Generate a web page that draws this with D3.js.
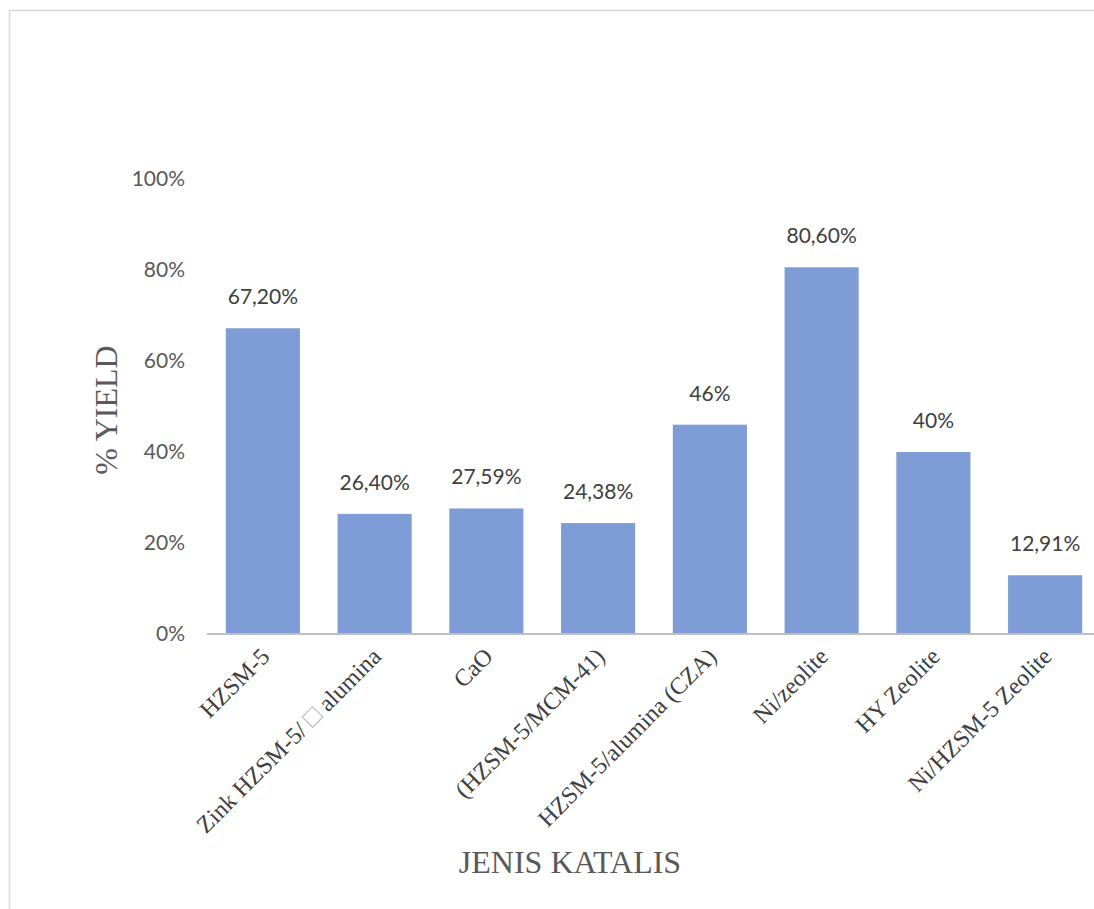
<!DOCTYPE html>
<html>
<head>
<meta charset="utf-8">
<script src="https://cdn.jsdelivr.net/npm/d3@7"></script>
<style>
  html, body { margin: 0; padding: 0; background: #fff; overflow: hidden; }
  svg { display: block; }
</style>
</head>
<body>
<div id="chart"></div>
<script>
const categories = ["HZSM-5", "Zink HZSM-5/ \u25A1 alumina", "CaO", "(HZSM-5/MCM-41)", "HZSM-5/alumina (CZA)", "Ni/zeolite", "HY Zeolite", "Ni/HZSM-5 Zeolite"];
const yields = [67.20, 26.40, 27.59, 24.38, 46, 80.60, 40, 12.91];
const valueLabels = ["67,20%", "26,40%", "27,59%", "24,38%", "46%", "80,60%", "40%", "12,91%"];
const yTicks = [0, 20, 40, 60, 80, 100];

const W = 1094, H = 909;
const margin = { left: 207, right: 1101, top: 179, bottom: 634 };

const svg = d3.select("#chart").append("svg")
  .attr("width", W).attr("height", H);

svg.append("rect").attr("width", W).attr("height", H).attr("fill", "#fff");

// outer frame (top and left visible)
svg.append("rect")
  .attr("x", 9.5).attr("y", 10.5)
  .attr("width", 1200).attr("height", 1000)
  .attr("fill", "none").attr("stroke", "#d9d9d9").attr("stroke-width", 1.5);

const x = d3.scaleBand()
  .domain(categories)
  .range([margin.left, margin.right])
  .paddingInner(0.337)
  .paddingOuter(0.1685);

const y = d3.scaleLinear()
  .domain([0, 100])
  .range([margin.bottom, margin.top]);

// y-axis tick labels
const yAxis = d3.axisLeft(y).tickValues(yTicks).tickSize(0).tickPadding(0)
  .tickFormat(d => d + "%");
const gy = svg.append("g").attr("transform", `translate(185,0)`).call(yAxis);
gy.select(".domain").remove();
gy.selectAll("text")
  .attr("font-family", "Lato, 'Open Sans', sans-serif")
  .attr("font-size", 21)
  .attr("fill", "#595959");

// bars
svg.append("g").selectAll("rect")
  .data(yields)
  .join("rect")
  .attr("x", (d, i) => x(categories[i]))
  .attr("y", d => y(d))
  .attr("width", x.bandwidth())
  .attr("height", d => y(0) - y(d))
  .attr("fill", "#7e9dd6");

// baseline
const xAxis = d3.axisBottom(x).tickSize(0).tickFormat("");
const gx = svg.append("g").attr("transform", `translate(0,${y(0)})`).call(xAxis);
gx.select(".domain").attr("stroke", "#bfbfbf").attr("stroke-width", 2)
  .attr("d", `M${margin.left},0H${W + 10}`);

// x tick labels rotated
const xl = svg.append("g").selectAll("text")
  .data(categories)
  .join("text")
  .attr("transform", d => `translate(${x(d) + x.bandwidth() / 2 + 8},${y(0) + 24}) rotate(-45)`)
  .attr("text-anchor", "end")
  .attr("font-family", "'Liberation Serif', 'Times New Roman', serif")
  .attr("font-size", 24)
  .attr("fill", "#404040")
  .style("white-space", "pre");
xl.each(function (d) {
  const t = d3.select(this);
  const parts = d.split("\u25A1");
  parts.forEach((p, k) => {
    if (k > 0) t.append("tspan").attr("fill", "#b5b5b5").attr("font-size", 26).text("\u25A1");
    t.append("tspan").text(p);
  });
});

// value labels
svg.append("g").selectAll("text")
  .data(yields)
  .join("text")
  .attr("x", (d, i) => x(categories[i]) + x.bandwidth() / 2)
  .attr("y", d => y(d) - 24)
  .attr("text-anchor", "middle")
  .attr("font-family", "Lato, 'Open Sans', sans-serif")
  .attr("font-size", 21)
  .attr("fill", "#404040")
  .text((d, i) => valueLabels[i]);

// axis titles
svg.append("text")
  .attr("transform", `translate(117,410) rotate(-90)`)
  .attr("text-anchor", "middle")
  .attr("font-family", "'Liberation Serif', 'Times New Roman', serif")
  .attr("font-size", 32)
  .attr("fill", "#595959")
  .text("% YIELD");

svg.append("text")
  .attr("x", 570).attr("y", 873)
  .attr("text-anchor", "middle")
  .attr("font-family", "'Liberation Serif', 'Times New Roman', serif")
  .attr("font-size", 32)
  .attr("fill", "#595959")
  .text("JENIS KATALIS");
</script>
</body>
</html>
